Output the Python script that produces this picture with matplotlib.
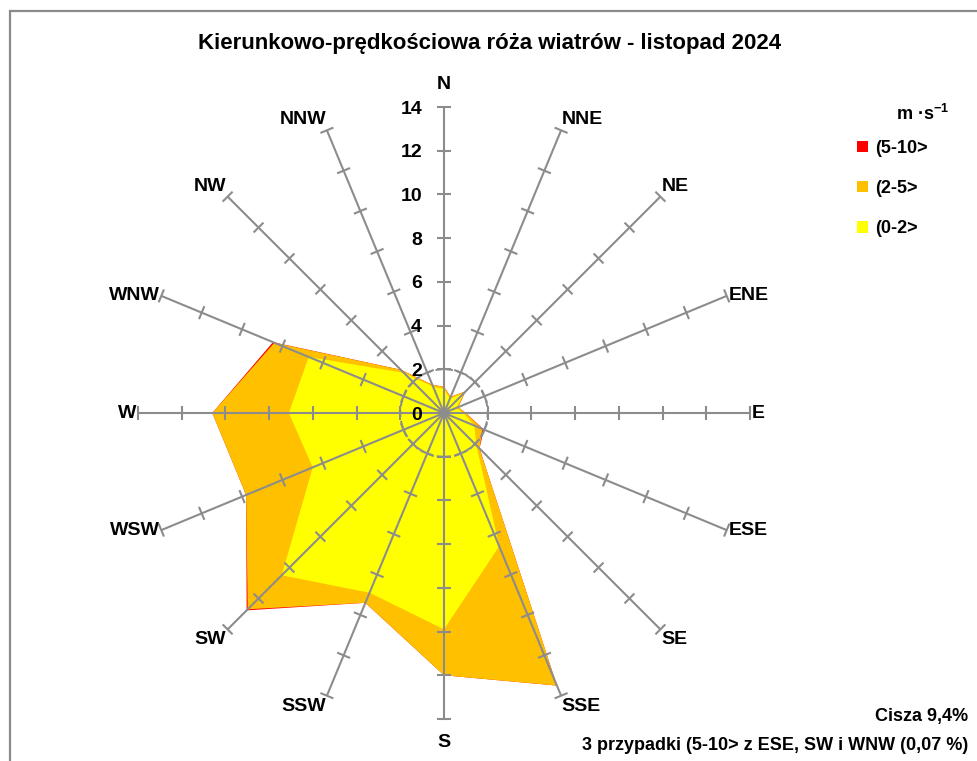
import numpy as np
import matplotlib.pyplot as plt
from matplotlib.patches import Patch, Circle, Rectangle
from matplotlib.collections import LineCollection

plt.rcParams['font.family'] = ['Liberation Sans', 'DejaVu Sans']
plt.rcParams['mathtext.fontset'] = 'custom'
plt.rcParams['mathtext.rm'] = 'Liberation Sans:bold'
plt.rcParams['mathtext.bf'] = 'Liberation Sans:bold'

# dane: czestosc [%] wg kierunku i klasy predkosci
directions = ["N", "NNE", "NE", "ENE", "E", "ESE", "SE", "SSE",
              "S", "SSW", "SW", "WSW", "W", "WNW", "NW", "NNW"]
speed_0_2 = [1.1, 0.7, 1.3, 0.6, 0.9, 1.5, 2.1, 6.6,
             9.9, 8.9, 10.5, 6.5, 7.1, 6.7, 2.6, 1.3]
speed_2_5 = [0.1, 0.1, 0.1, 0.1, 0.1, 0.4, 0.2, 6.9,
             2.1, 0.5, 2.2, 3.3, 3.5, 1.7, 0.2, 0.1]
speed_5_10 = [0, 0, 0, 0, 0, 0.07, 0, 0,
              0, 0, 0.07, 0, 0, 0.07, 0, 0]
class_labels = ["(5-10>", "(2-5>", "(0-2>"]
class_colors = ["#ff0000", "#ffc000", "#ffff00"]
radial_ticks = [0, 2, 4, 6, 8, 10, 12, 14]
calm_radius = 2

title = "Kierunkowo-prędkościowa róża wiatrów - listopad 2024"
unit_label = "m ·s$^{-1}$"
calm_text = "Cisza 9,4%"
note_text = "3 przypadki (5-10> z ESE, SW i WNW (0,07 %)"

W, H = 977, 761
cx, cy = 444, 413          # srodek rozy w pikselach
rmax = radial_ticks[-1]
ppu = 306 / rmax           # pikseli na jednostke
grid_col = "#8c8c8c"

fig = plt.figure(figsize=(W / 100, H / 100), dpi=100)
ax = fig.add_axes([0, 0, 1, 1])
ax.set_xlim(-cx / ppu, (W - cx) / ppu)
ax.set_ylim(-(H - cy) / ppu, cy / ppu)
ax.axis('off')

theta = np.deg2rad(np.arange(len(directions)) * 360 / len(directions))
sx, sy = np.sin(theta), np.cos(theta)

low = np.array(speed_0_2)
mid = low + np.array(speed_2_5)
top = mid + np.array(speed_5_10)

# warstwy skumulowane
for vals, col in zip([top, mid, low], class_colors):
    ax.fill(vals * sx, vals * sy, facecolor=col, edgecolor='none', zorder=1)

# szprychy
for x, y in zip(sx, sy):
    ax.plot([0, rmax * x], [0, rmax * y], color=grid_col, lw=1.5, zorder=3,
            solid_capstyle='butt')

# kreski na szprychach
half = 7 / ppu
segs = []
for x, y in zip(sx, sy):
    for r in radial_ticks[1:]:
        px, py = r * x, r * y
        segs.append([(px - half * y, py + half * x), (px + half * y, py - half * x)])
ax.add_collection(LineCollection(segs, colors=grid_col, linewidths=1.5, zorder=3))

ax.add_patch(Circle((0, 0), calm_radius, fill=False, edgecolor=grid_col, lw=1.4,
                    linestyle=(0, (3.5, 2)), zorder=3))
ax.add_patch(Circle((0, 0), 4 / ppu, facecolor=grid_col, edgecolor='none', zorder=4))

# opisy skali
for r in radial_ticks:
    ax.text(-22 / ppu, r, str(r), ha='right', va='center_baseline', fontsize=14,
            fontweight='bold', zorder=5)

# opisy kierunkow
for name, x, y in zip(directions, sx, sy):
    ha = 'left' if x > 0.3 else ('right' if x < -0.3 else 'center')
    va = 'bottom' if y > 0.5 else ('top' if y < -0.5 else 'center')
    g = 2
    if name == "N":
        g = 14
    elif name == "S":
        g = 15
    ax.annotate(name, (rmax * x, rmax * y), xytext=(x * g * 0.72, y * g * 0.72),
                textcoords='offset points', ha=ha, va=va, fontsize=14,
                fontweight='bold')

fig.text(490 / W, 1 - 44 / H, title, ha='center', va='center', fontsize=16,
         fontweight='bold')

# legenda
handles = [Patch(facecolor=c, edgecolor='none', label=l)
           for c, l in zip(class_colors, class_labels)]
fig.legend(handles=handles, loc='upper left', bbox_to_anchor=(857 / W, 1 - 140 / H),
           frameon=False, handlelength=0.6, handleheight=0.6,
           handletextpad=0.4, labelspacing=1.28, borderpad=0, borderaxespad=0,
           prop={'weight': 'bold', 'size': 13})
fig.text(896 / W, 1 - 114 / H, unit_label, ha='left', va='center', fontsize=13,
         fontweight='bold')

fig.text(968 / W, 1 - 716 / H, calm_text, ha='right', va='center', fontsize=13,
         fontweight='bold')
fig.text(968 / W, 1 - 745 / H, note_text, ha='right', va='center', fontsize=13,
         fontweight='bold')

# ramka wykresu
fig.add_artist(Rectangle((9.5 / W, -0.1), 2, 1.1 - 10.5 / H, transform=fig.transFigure,
                         fill=False, edgecolor='#8a8a8a', lw=1.6))

fig.savefig("out.png", dpi=100)
